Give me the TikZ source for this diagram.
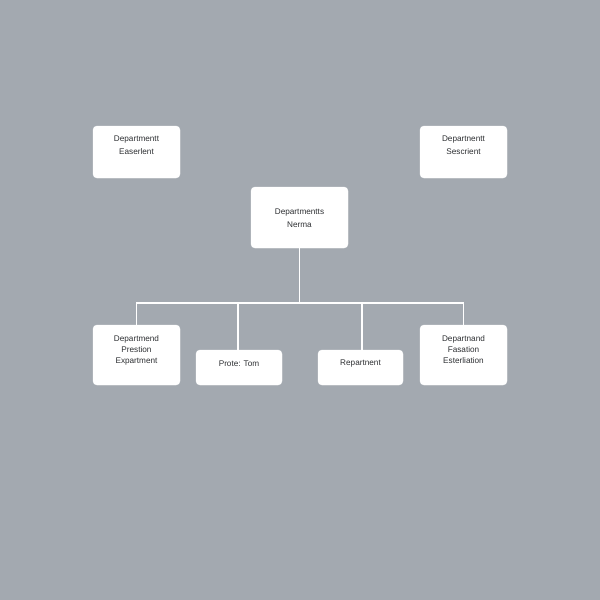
\documentclass[tikz,border=0pt]{standalone}
\usepackage{fontspec}
\setmainfont{Liberation Sans}
\definecolor{bg}{HTML}{A3A9B0}
\definecolor{txt}{HTML}{2E3033}
\tikzset{
  box/.style={draw=white, fill=white, rounded corners=4pt, minimum width=87pt,
    minimum height=52pt, inner sep=0pt},
  smallbox/.style={box, minimum width=86pt, minimum height=35pt},
  lbl/.style={align=center, font=\fontsize{8.2}{13}\selectfont, text=txt, inner sep=0pt},
  lbl3/.style={lbl, font=\fontsize{8.2}{11}\selectfont},
  conn/.style={draw=white, line width=1.3pt}
}
\begin{document}
\begin{tikzpicture}[x=1pt,y=-1pt]
\fill[bg] (0,0) rectangle (600,600);
\useasboundingbox (0,0) rectangle (600,600);
\node[box] (tl) at (136.5,152) {};
\node[lbl] (tlt) at ([yshift=6.5pt]tl.center) {Departmentt\\Easerlent};
\node[box] (tr) at (463.5,152) {};
\node[lbl] (trt) at ([yshift=6.5pt]tr.center) {Departnentt\\Sescrient};
\node[box, minimum width=97pt, minimum height=61pt] (c) at (299.5,217.5) {};
\node[lbl] (ct) at ([yshift=-1pt]c.center) {Departmentts\\Nerma};
\node[box, minimum height=60pt] (b1) at (136.5,355) {};
\node[lbl3] (b1t) at ([yshift=5pt]b1.center) {Departmend\\Prestion\\Expartment};
\node[smallbox] (b2) at (239,367.5) {};
\node[lbl] (b2t) at ([yshift=4pt]b2.center) {Prote: Tom};
\node[smallbox, minimum width=85pt] (b3) at (360.5,367.5) {};
\node[lbl] (b3t) at ([yshift=4pt]b3.center) {Repartnent};
\node[box, minimum height=60pt] (b4) at (463.5,355) {};
\node[lbl3] (b4t) at ([yshift=5.5pt]b4.center) {Departnand\\Fasation\\Esterliation};
\coordinate (j) at (299.5,303);
\draw[conn] (c.south) -- (j);
\draw[conn] (j) -| (b1.north);
\draw[conn] (j) -| ([xshift=-1pt]b2.north);
\draw[conn] (j) -| ([xshift=1.5pt]b3.north);
\draw[conn] (j) -| (b4.north);
\end{tikzpicture}
\end{document}
